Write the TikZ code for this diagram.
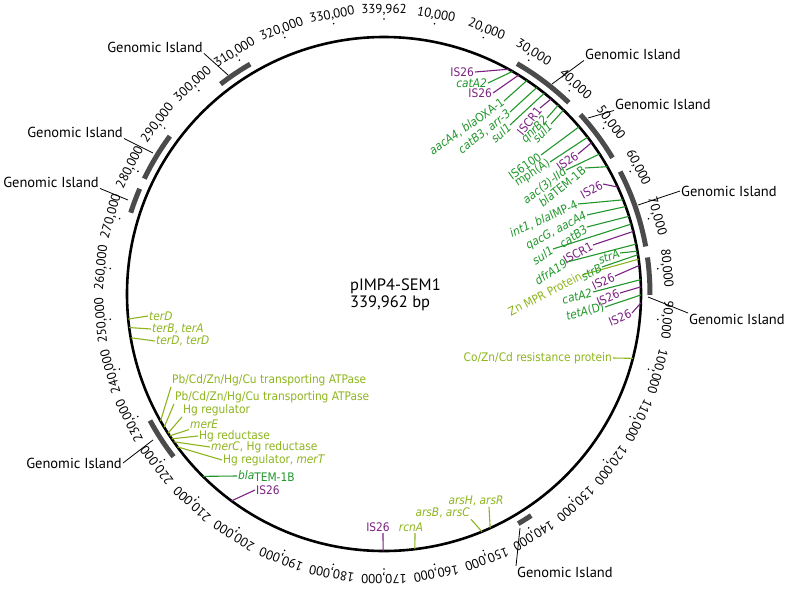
\documentclass[tikz,border=0pt]{standalone}
\usepackage{fontspec}
\setmainfont{PT Sans}
\newfontfamily\genefont{DejaVuSansCondensed}[Extension=.ttf,UprightFont=*,ItalicFont=*-Oblique,BoldFont=*-Bold]
\usetikzlibrary{positioning}
\definecolor{isc}{HTML}{7A2182}
\definecolor{resc}{HTML}{21962B}
\definecolor{metc}{HTML}{8DB41C}
\definecolor{gic}{HTML}{4B4B4B}
\tikzset{ring/.style={draw=black,line width=2.6pt},
 gi/.style={draw=gic,line width=5pt},
 giline/.style={draw=black,line width=0.8pt},
 gilab/.style={font=\fontsize{14.5}{16}\selectfont,inner sep=1pt},
 tick/.style={font=\fontsize{13}{15}\selectfont,inner sep=1pt,anchor=south},
 gene/.style={font=\genefont\fontsize{11.8}{13}\selectfont,inner sep=1pt},
 isn/.style={gene,text=isc},resn/.style={gene,text=resc},metn/.style={gene,text=metc},
 isl/.style={draw=isc,line width=1.1pt},resl/.style={draw=resc,line width=1.1pt},
 metl/.style={draw=metc,line width=1.1pt},
 title/.style={font=\fontsize{16.5}{18}\selectfont,inner sep=1pt}}

\begin{document}
\begin{tikzpicture}[x=1pt,y=-1pt]
\useasboundingbox (0,0) rectangle (787,590);
\coordinate (O) at (384,294);
\draw[ring] (O) circle[radius=257];
\begin{scope}[shift={(O)}]
% scale, one tick every 10 kb
\foreach \k in {10,20,...,330}{
 \pgfmathsetmacro\b{-90+1.058942*\k}
 \pgfmathsetmacro\r{-1.058942*\k}
 \fill (\b:275) circle[radius=0.9];
 \node[tick,rotate=\r] at (\b:277) {\k,000};
}
\fill (-90:275) circle[radius=0.9];
\node[tick] at (-90:277) {339,962};
% genomic islands
\foreach \s/\e in {-60/-46,-42.4/-30.8,-27.4/-10.3,-7.9/0.2,56.4/59.7,142.3/151.6,197.8/203.3,205.7/216.4,232.1/239.8}
 \draw[gi] (\s:266) arc[start angle=\s,end angle=\e,radius=266];
% contact points on the ring
\foreach \n/\b in {c1/-61.0,c2/-60.0,c3/-58.4,c4/-56.2,c5/-53.5,c6/-51.4,c7/-49.4,c8/-47.3,c9/-45.7,
 c10/-40.6,c11/-37.6,c12/-36.1,c13/-33.0,c14/-29.7,c15/-24.6,c16/-21.5,c17/-19.9,c18/-15.8,c19/-17.6,
 c20/-14.1,c21/-9.6,c22/-11.2,c23/-7.8,c24/-8.8,c25/-6.4,c26/-3.2,c27/-1.6,c28/0.2,c29/2.0,
 c30/14.5,c31/65.6,c32/67.6,c33/83.1,c34/90.2,c35/126.4,c36/134.8,c37/143.5,c38/144.9,c39/145.7,
 c40/146.5,c41/147.2,c42/148.8,c43/150.4,c44/170.2,c45/172.5,c46/174.4}
 \coordinate (\n) at (\b:257);
\end{scope}

% genomic island labels
\node[gilab,anchor=west] (i1) at (584,54) {Genomic Island};
\draw[giline] (552,84) -- (i1.south west);
\node[gilab,anchor=west] (i2) at (614,104) {Genomic Island};
\draw[giline] (588,118) -- (i2.south west);
\node[gilab,anchor=west] (i3) at (680,191) {Genomic Island};
\draw[giline] (638,205) -- (i3.west);
\node[gilab,anchor=north west] (i4) at (688,313) {Genomic Island};
\draw[giline] (648,297) -- (i4.north west);
\node[gilab,anchor=north west] (i5) at (516,566) {Genomic Island};
\draw[giline] (520,528) -- (i5.north west);
\node[gilab,anchor=east] (i6) at (123,463) {Genomic Island};
\draw[giline] (153,440) -- (i6.east);
\node[gilab,anchor=east] (i7) at (124,132) {Genomic Island};
\draw[giline] (153,153) -- (i7.south east);
\node[gilab,anchor=east] (i8) at (100,182) {Genomic Island};
\draw[giline] (128,200) -- (i8.south east);
\node[gilab,anchor=east] (i9) at (204,47) {Genomic Island};
\draw[giline] (228,75) -- (i9.south east);

% plasmid name
\node[title,anchor=west] (nm) at (349,286) {pIMP4-SEM1};
\node[title,anchor=north west] (len) at (nm.south west) {339,962 bp};

% top right cluster
\node[isn,anchor=east] (g1) at (475,72) {IS26};
\draw[isl] (g1.east) -- (c1);
\node[resn,anchor=east] (g2) at (488,83) {\textit{catA2}};
\draw[resl] (g2.east) -- (c2);
\node[isn,anchor=east] (g3) at (493,93) {IS26};
\draw[isl] (g3.east) -- (c3);
\node[resn,anchor=east,rotate=35] (g4) at (504,101) {\textit{aacA4}, \textit{bla}OXA-1};
\draw[resl] (g4.east) -- (c4);
\node[resn,anchor=east,rotate=38] (g5) at (510,112) {\textit{catB3}, \textit{arr-3}};
\draw[resl] (g5.east) -- (c5);
\node[resn,anchor=east,rotate=42] (g6) at (510,125) {\textit{sul1}};
\draw[resl] (g6.east) -- (c6);
\node[isn,anchor=east,rotate=51] (g7) at (540,108) {ISCR1};
\draw[isl] (g7.east) -- (c7);
\node[resn,anchor=east,rotate=45] (g8) at (547,118) {\textit{qnrB2}};
\draw[resl] (g8.east) -- (c8);
\node[resn,anchor=east,rotate=45] (g9) at (551,124) {\textit{sul1}};
\draw[resl] (g9.east) -- (c9);
\node[resn,anchor=east,rotate=35] (g10) at (541,155) {IS6100};
\draw[resl] (g10.east) -- (c10);
\node[resn,anchor=east,rotate=33] (g11) at (550,162) {mph(A)};
\draw[resl] (g11.east) -- (c11);
\node[isn,anchor=east,rotate=35] (g12) at (578,154) {IS26};
\draw[isl] (g12.east) -- (c12);
\node[resn,anchor=east,rotate=37] (g13) at (566,170) {\textit{aac(3)-IId}};
\draw[resl] (g13.east) -- (c13);
\node[resn,anchor=east,rotate=39] (g14) at (585,168) {\textit{bla}TEM-1B};
\draw[resl] (g14.east) -- (c14);
\node[isn,anchor=east,rotate=28] (g15) at (603,184) {IS26};
\draw[isl] (g15.east) -- (c15);
\node[resn,anchor=east,rotate=24] (g16) at (578,204) {\textit{int1}, \textit{bla}IMP-4};
\draw[resl] (g16.east) -- (c16);
\node[resn,anchor=east,rotate=28] (g17) at (587,215) {\textit{qacG}, \textit{aacA4}};
\draw[resl] (g17.east) -- (c17);
\node[resn,anchor=east,rotate=32] (g18) at (553,249) {\textit{sul1}};
\draw[resl] (g18.east) -- (c18);
\node[resn,anchor=east,rotate=34] (g19) at (587,227) {\textit{catB3}};
\draw[resl] (g19.east) -- (c19);
\node[isn,anchor=east,rotate=28] (g20) at (593,245) {ISCR1};
\draw[isl] (g20.east) -- (c20);
\node[resn,anchor=east,rotate=20] (g21) at (620,253) {\textit{strA}};
\draw[resl] (g21.east) -- (c21);
\node[resn,anchor=east,rotate=32] (g22) at (567,262) {\textit{dfrA19}};
\draw[resl] (g22.east) -- (c22);
\node[metn,anchor=east,rotate=27] (g23) at (582,275) {Zn MPR Protein};
\draw[metl] (g23.east) -- (c23);
\node[resn,anchor=east,rotate=28] (g24) at (602,267) {\textit{strB}};
\draw[resl] (g24.east) -- (c24);
\node[isn,anchor=east,rotate=25] (g25) at (615,276) {IS26};
\draw[isl] (g25.east) -- (c25);
\node[resn,anchor=east,rotate=15] (g26) at (593,292) {\textit{catA2}};
\draw[resl] (g26.east) -- (c26);
\node[isn,anchor=east,rotate=22] (g27) at (620,293) {IS26};
\draw[isl] (g27.east) -- (c27);
\node[resn,anchor=east,rotate=14] (g28) at (605,307) {\textit{tetA}(D)};
\draw[resl] (g28.east) -- (c28);
\node[isn,anchor=east,rotate=22] (g29) at (632,313) {IS26};
\draw[isl] (g29.east) -- (c29);

% right and bottom
\node[metn,anchor=east] (g30) at (613,358) {Co/Zn/Cd resistance protein};
\draw[metl] (g30.east) -- (c30);
\node[metn,anchor=south] (g31) at (476,507) {\textit{arsH}, \textit{arsR}};
\draw[metl] ([xshift=13pt]g31.south) -- (c31);
\node[metn,anchor=east] (g32) at (471,513) {\textit{arsB}, \textit{arsC}};
\draw[metl] (g32.south east) -- (c32);
\node[metn,anchor=south] (g33) at (411,533) {\textit{rcnA}};
\draw[metl] ([xshift=4pt]g33.south) -- (c33);
\node[isn,anchor=south] (g34) at (378,533) {IS26};
\draw[isl] ([xshift=5pt]g34.south) -- (c34);

% left cluster
\node[isn,anchor=west] (m1) at (255,490) {IS26};
\draw[isl] (c35) -- (m1.west);
\node[resn,anchor=west] (m2) at (237,476) {\textit{bla}\raisebox{-2pt}{TEM-1B}};
\draw[resl] (c36) -- (m2.west);
\node[metn,anchor=west] (m3) at (222,460) {Hg regulator, \textit{merT}};
\draw[metl] (c37) -- (m3.west);
\node[metn,anchor=west] (m4) at (210,447) {\textit{merC}, Hg reductase};
\draw[metl] (c38) -- (m4.west);
\node[metn,anchor=west] (m5) at (198,436) {Hg reductase};
\draw[metl] (c39) -- (m5.west);
\node[metn,anchor=west] (m6) at (189,424) {\textit{merE}};
\draw[metl] (c40) -- (m6.south west);
\node[metn,anchor=west] (m7) at (182,410) {Hg regulator};
\draw[metl] (c41) -- (m7.south west);
\node[metn,anchor=west] (m8) at (174,397) {Pb/Cd/Zn/Hg/Cu transporting ATPase};
\draw[metl] (c42) -- (m8.south west);
\node[metn,anchor=west] (m9) at (171,380) {Pb/Cd/Zn/Hg/Cu transporting ATPase};
\draw[metl] (c43) -- (m9.south west);
\node[metn,anchor=west] (m10) at (155,341) {\textit{terD}, \textit{terD}};
\draw[metl] (c44) -- (m10.west);
\node[metn,anchor=west] (m11) at (151,329) {\textit{terB}, \textit{terA}};
\draw[metl] (c45) -- (m11.west);
\node[metn,anchor=west] (m12) at (148,316) {\textit{terD}};
\draw[metl] (c46) -- (m12.west);
\end{tikzpicture}
\end{document}
